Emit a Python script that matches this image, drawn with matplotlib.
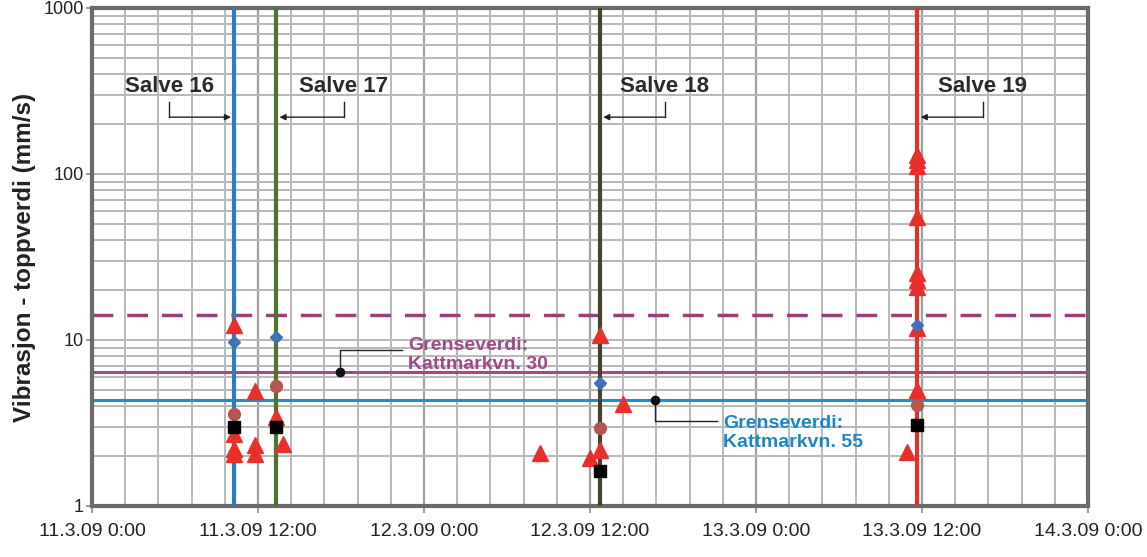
import matplotlib
matplotlib.use("Agg")
import matplotlib.pyplot as plt
import numpy as np
from matplotlib.ticker import FixedLocator, NullFormatter

# ---------------- data (hours after 11.3.09 0:00, mm/s) ----------------
tri_x = [10.3, 10.3, 10.3, 10.3, 11.8, 11.8, 11.8, 13.3, 13.8,
         32.4, 36.0, 36.7, 36.7, 38.4,
         58.9, 59.65, 59.65, 59.65, 59.65, 59.65, 59.65, 59.65, 59.65, 59.65]
tri_y = [12.3, 2.7, 2.2, 2.05, 4.9, 2.33, 2.05, 3.45, 2.36,
         2.1, 1.95, 2.17, 10.7, 4.12,
         2.12, 5.0, 11.8, 20.9, 23.0, 25.2, 55.0, 111, 121, 130]
dia_x = [10.3, 13.3, 36.7, 59.65]
dia_y = [9.7, 10.4, 5.5, 12.3]
cir_x = [10.3, 13.3, 36.7, 59.65]
cir_y = [3.57, 5.25, 2.96, 4.06]
sq_x = [10.3, 13.3, 36.7, 59.65]
sq_y = [2.99, 2.99, 1.63, 3.07]

salve_names = ["Salve 16", "Salve 17", "Salve 18", "Salve 19"]
salve_times = [10.3, 13.3, 36.7, 59.65]
salve_colors = ["#2a7ec0", "#4e7430", "#45432c", "#e3302a"]
salve_label_x = [5.6, 18.2, 41.4, 64.4]

limit_dashed = 14.1
limit_30 = 6.4
limit_55 = 4.35

xtick_hours = [0, 12, 24, 36, 48, 60, 72]
xtick_labels = ["11.3.09 0:00", "11.3.09 12:00", "12.3.09 0:00", "12.3.09 12:00",
                "13.3.09 0:00", "13.3.09 12:00", "14.3.09 0:00"]
ytick_vals = [1, 10, 100, 1000]
ytick_labels = ["1", "10", "100", "1000"]

FONT = ["Liberation Sans", "DejaVu Sans"]

# ---------------- figure ----------------
fig = plt.figure(figsize=(11.47, 5.57), dpi=100)
ax = fig.add_axes([92/1147, 1-506/557, (1088-92)/1147, (506-8)/557])
ax.set_yscale("log")
ax.set_xlim(0, 72)
ax.set_ylim(1, 1000)

grid_c = "#b8b8b8"
ax.xaxis.set_minor_locator(FixedLocator(np.arange(0, 72.01, 2.4)))
ax.set_xticks(xtick_hours)
ax.set_xticklabels(xtick_labels, family=FONT, fontsize=14, color="#222222")
ax.yaxis.set_minor_locator(FixedLocator([m * d for d in (1, 10, 100) for m in range(2, 10)]))
ax.yaxis.set_minor_formatter(NullFormatter())
ax.set_yticks(ytick_vals)
ax.set_yticklabels(ytick_labels, family=FONT, fontsize=13, color="#222222")
ax.grid(True, which="both", color=grid_c, lw=1.4, zorder=0)
ax.grid(True, which="major", axis="x", color="#a0a0a0", lw=1.6)
ax.set_axisbelow(True)
ax.tick_params(which="minor", length=0)
ax.tick_params(axis="x", which="major", length=5, width=1.2, color="#888888", pad=7)
ax.tick_params(axis="y", which="major", length=4, width=1.2, color="#888888", pad=2)
for s in ax.spines.values():
    s.set_color("#6a6a6a")
    s.set_linewidth(3)

ax.set_ylabel("Vibrasjon - toppverdi (mm/s)", fontsize=17.5, fontweight="bold",
              family=FONT, labelpad=5, color="#222222")

# limit lines
ax.axhline(limit_dashed, color="#9a3f7c", lw=2.5, ls=(0, (6, 4)), zorder=2)
ax.axhline(limit_30, color="#a2488c", lw=2.2, zorder=2)
ax.axhline(limit_55, color="#1e8fd5", lw=2.2, zorder=2)

# salve lines
for t, c in zip(salve_times, salve_colors):
    ax.axvline(t, color=c, lw=3, zorder=3)

# markers
ax.plot(tri_x, tri_y, ls="none", marker="^", ms=11, color="#e8302a", mec="#e8302a", zorder=5)
ax.plot(cir_x, cir_y, ls="none", marker="o", ms=8.5, color="#b55450", zorder=4)
ax.plot(dia_x, dia_y, ls="none", marker="D", ms=6, color="#3f72b8", zorder=6)
ax.plot(sq_x, sq_y, ls="none", marker="s", ms=8.5, color="black", zorder=6)

# salve labels with arrows
lab_y = 335
vy_top = 272
arr_y = 220
for name, t, lx in zip(salve_names, salve_times, salve_label_x):
    ax.text(lx, lab_y, name, ha="center", va="center", fontsize=16, fontweight="bold",
            color="#2a2a2a", family=FONT, zorder=8)
    ax.plot([lx, lx], [vy_top, arr_y], color="#222222", lw=1, zorder=8)
    end = t + 0.25 if lx > t else t - 0.25
    ax.annotate("", xy=(end, arr_y), xytext=(lx, arr_y),
                arrowprops=dict(arrowstyle="-|>", color="#222222", lw=1,
                                mutation_scale=9, shrinkA=0, shrinkB=0), zorder=8)

# Grenseverdi annotations
ax.plot([17.9, 17.9, 22.4], [limit_30, 8.7, 8.7], color="#222222", lw=1, zorder=8)
ax.plot([17.9], [limit_30], marker="o", ms=6, color="#111111", zorder=9)
ax.text(22.85, 8.1, "Grenseverdi:\nKattmarkvn. 30", ha="left", va="center", fontsize=14,
        fontweight="bold", color="#a0488a", family=FONT, linespacing=1.2, zorder=8)
ax.plot([40.7, 40.7, 45.2], [limit_55, 3.25, 3.25], color="#222222", lw=1, zorder=8)
ax.plot([40.7], [limit_55], marker="o", ms=6, color="#111111", zorder=9)
ax.text(45.6, 2.75, "Grenseverdi:\nKattmarkvn. 55", ha="left", va="center", fontsize=14,
        fontweight="bold", color="#1e86c8", family=FONT, linespacing=1.2, zorder=8)

fig.savefig("out.png", dpi=100)
